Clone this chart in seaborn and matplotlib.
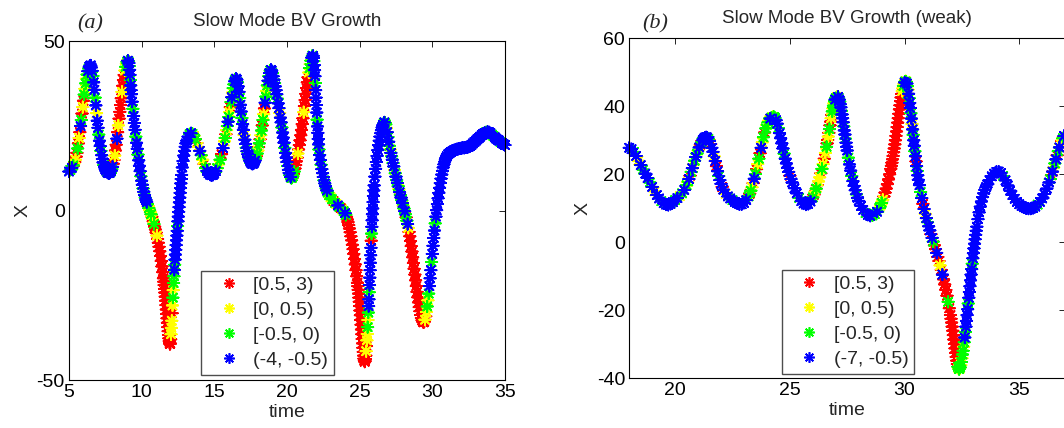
import matplotlib
matplotlib.use("Agg")
import matplotlib.pyplot as plt
from matplotlib.lines import Line2D
import pandas as pd
import seaborn as sns

# Growth-rate bins in drawing order (the last bin is drawn on top).
rate_codes = ["R", "Y", "G", "B"]
rate_colors = ["#ff0000", "#ffff00", "#00ff00", "#0000ff"]
labels_a = ["[0.5, 3)", "[0, 0.5)", "[-0.5, 0)", "(-4, -0.5)"]
labels_b = ["[0.5, 3)", "[0, 0.5)", "[-0.5, 0)", "(-7, -0.5)"]

# ---- panel (a): slow-mode X along the trajectory, t = 5 .. 35 ----
time_a = [
    5.0, 5.1, 5.2, 5.3, 5.4, 5.45, 5.5, 5.55, 5.6, 5.65, 5.7, 5.75, 5.8, 5.85, 5.9, 5.95, 6.0, 6.05, 6.1, 6.15, 6.2, 6.25, 6.3, 6.35, 6.4, 6.45, 6.5,
    6.55, 6.6, 6.65, 6.7, 6.75, 6.8, 6.85, 6.9, 6.95, 7.0, 7.05, 7.1, 7.15, 7.2, 7.25, 7.3, 7.35, 7.4, 7.45, 7.5, 7.55, 7.6, 7.65, 7.7, 7.75,
    7.8, 7.85, 7.9, 7.95, 8.0, 8.05, 8.1, 8.15, 8.2, 8.25, 8.3, 8.35, 8.4, 8.45, 8.5, 8.55, 8.6, 8.65, 8.7, 8.75, 8.8, 8.85, 8.9, 8.95, 9.0, 9.05,
    9.1, 9.125, 9.15, 9.175, 9.2, 9.225, 9.25, 9.275,
    9.3, 9.35, 9.4, 9.45, 9.5, 9.55, 9.6, 9.65, 9.7, 9.75, 9.8, 9.85, 9.9, 9.95, 10.0, 10.05, 10.1, 10.15, 10.2, 10.25, 10.3, 10.35,
    10.4, 10.45, 10.5, 10.55, 10.6, 10.65, 10.7, 10.75, 10.8, 10.85,
    10.9, 10.95, 11.0, 11.05, 11.1, 11.15, 11.2, 11.25, 11.3, 11.35, 11.4, 11.45, 11.5,
    11.525, 11.55, 11.575, 11.6, 11.625, 11.65, 11.675, 11.7, 11.725, 11.75, 11.775, 11.8, 11.825, 11.85, 11.875, 11.9, 11.925, 11.95,
    11.975, 12.0, 12.025, 12.05, 12.075, 12.1, 12.125, 12.15, 12.175, 12.2, 12.225, 12.25, 12.275, 12.3, 12.325, 12.35, 12.375, 12.4,
    12.425, 12.45, 12.475, 12.5, 12.525, 12.55, 12.575, 12.6, 12.625, 12.65, 12.675, 12.7, 12.725, 12.75,
    12.8, 12.85, 12.9, 12.95, 13.0, 13.05, 13.1, 13.2, 13.3, 13.4,
    13.5, 13.6, 13.7, 13.8, 13.9, 14.0, 14.1, 14.2, 14.3, 14.4, 14.5, 14.6, 14.7, 14.8, 14.9,
    15.0, 15.1, 15.2, 15.3, 15.4, 15.5, 15.6, 15.7, 15.75, 15.8, 15.85, 15.9, 15.95, 16.0, 16.05, 16.1, 16.15, 16.2, 16.25, 16.3, 16.35, 16.4, 16.45, 16.5,
    16.55, 16.6, 16.65, 16.7, 16.75, 16.8, 16.85, 16.9, 16.95, 17.0, 17.05, 17.1, 17.15, 17.2, 17.25, 17.3, 17.35, 17.4, 17.45, 17.5, 17.55, 17.6, 17.65,
    17.7, 17.75, 17.8, 17.85, 17.9, 17.95, 18.0, 18.05, 18.1, 18.15, 18.2, 18.25, 18.3, 18.35, 18.4, 18.45, 18.5, 18.55, 18.6, 18.65, 18.7, 18.75, 18.8, 18.85, 18.9,
    18.95, 19.0, 19.05, 19.1, 19.15, 19.2, 19.25, 19.3, 19.35, 19.4, 19.45, 19.5, 19.55, 19.6, 19.65, 19.7, 19.75, 19.8, 19.85, 19.9, 19.95, 20.0, 20.05, 20.1, 20.15, 20.2, 20.25, 20.3,
    20.35, 20.4, 20.45, 20.5, 20.55, 20.6, 20.65, 20.7, 20.75, 20.8, 20.85, 20.9, 20.95, 21.0, 21.05, 21.1, 21.15, 21.2, 21.25, 21.3, 21.35, 21.4, 21.45, 21.5, 21.55, 21.6, 21.65, 21.7, 21.75, 21.8,
    21.825, 21.85, 21.875, 21.9, 21.925, 21.95, 21.975, 22.0, 22.025, 22.05, 22.075, 22.1, 22.125, 22.15, 22.175, 22.2,
    22.25, 22.3, 22.35, 22.4, 22.45, 22.5, 22.55, 22.6, 22.65, 22.7, 22.75, 22.8,
    22.9, 23.0, 23.1, 23.2, 23.3, 23.4, 23.5, 23.6, 23.7, 23.8, 23.9, 24.0,
    24.05, 24.1, 24.15, 24.2, 24.25, 24.3, 24.35, 24.4, 24.45, 24.5, 24.55, 24.6, 24.65, 24.7, 24.75, 24.8, 24.85,
    24.875, 24.9, 24.925, 24.95, 24.975, 25.0, 25.025, 25.05, 25.075, 25.1, 25.125, 25.15, 25.175, 25.2, 25.225, 25.25, 25.275, 25.3, 25.325, 25.35,
    25.375, 25.4, 25.425, 25.45, 25.475, 25.5, 25.525, 25.55, 25.575, 25.6,
    25.62, 25.64, 25.66, 25.68, 25.7, 25.72, 25.74, 25.76, 25.78, 25.8, 25.82, 25.84, 25.86, 25.88, 25.9,
    25.925, 25.95, 25.975, 26.0,
    26.05, 26.1, 26.15, 26.2, 26.25, 26.3, 26.35, 26.4, 26.45, 26.5, 26.55, 26.6, 26.65, 26.7, 26.75,
    26.8, 26.85, 26.9, 26.95, 27.0, 27.05, 27.1, 27.15, 27.2, 27.25, 27.3, 27.35, 27.4, 27.45, 27.5, 27.55, 27.6, 27.65, 27.7, 27.75,
    27.8, 27.85, 27.9, 27.95, 28.0, 28.05, 28.1, 28.15, 28.2, 28.25, 28.3, 28.35,
    28.4, 28.45, 28.5, 28.55, 28.6, 28.65, 28.7, 28.75, 28.8, 28.85, 28.9, 28.95, 29.0, 29.05, 29.1, 29.15, 29.2, 29.25, 29.3, 29.35, 29.4,
    29.45, 29.5, 29.55, 29.6, 29.65, 29.7, 29.75, 29.8, 29.85, 29.9, 29.95, 30.0, 30.05, 30.1, 30.15, 30.2, 30.25, 30.3, 30.35, 30.4,
    30.45, 30.5, 30.55, 30.6, 30.65, 30.7, 30.75, 30.8, 30.85, 30.9, 30.95, 31.0,
    31.1, 31.2, 31.3, 31.4, 31.5, 31.6, 31.7, 31.8, 31.9, 32.0, 32.1, 32.2, 32.3, 32.4, 32.5, 32.6, 32.7, 32.8, 32.9, 33.0,
    33.1, 33.2, 33.3, 33.4, 33.5, 33.6, 33.7, 33.8, 33.9, 34.0, 34.1, 34.2, 34.3, 34.4, 34.5, 34.6, 34.7, 34.8, 34.9, 35.0,
]
x_a = [
    11.5, 12.0, 12.6, 13.3, 14.3, 15.0, 15.9, 17.0, 18.3, 19.8, 21.4, 23.1, 24.9, 26.7, 28.6, 30.5, 32.4, 34.2, 35.9, 37.5, 38.9, 40.1, 41.1, 41.9, 42.4, 42.7, 42.8,
    42.2, 41.2, 39.7, 37.8, 35.6, 33.3, 31.0, 28.7, 26.5, 24.4, 22.4, 20.6, 19.0, 17.6, 16.3, 15.2, 14.2, 13.4, 12.7, 12.2, 11.8, 11.5, 11.2, 11.1, 11.0,
    11.1, 11.3, 11.7, 12.2, 12.9, 13.8, 14.9, 16.2, 17.7, 19.4, 21.2, 23.1, 25.1, 27.1, 29.1, 31.1, 33.1, 35.0, 36.8, 38.5, 40.0, 41.3, 42.4, 43.3, 43.9, 44.2,
    44.0, 43.5, 42.6, 41.5, 40.0, 38.5, 36.9, 35.5,
    34.3, 32.1, 30.0, 27.9, 25.8, 23.8, 21.8, 20.0, 18.2, 16.5, 14.8, 13.2, 11.6, 10.1, 8.8, 7.6, 6.5, 5.5, 4.6, 3.8, 3.1, 2.5,
    1.9, 1.3, 0.7, 0.1, -0.5, -1.1, -1.8, -2.5, -3.2, -4.0,
    -4.8, -5.6, -6.5, -7.4, -8.4, -9.5, -10.7, -12.0, -13.4, -14.9, -16.5, -18.2, -20.0,
    -21.0, -22.0, -23.1, -24.2, -25.4, -26.6, -27.9, -29.2, -30.5, -31.8, -33.1, -34.4, -35.6, -36.7, -37.7, -38.5, -39.1, -39.4,
    -39.2, -38.0, -36.5, -34.6, -32.5, -30.3, -28.0, -25.7, -23.5, -21.4, -19.4, -17.5, -16.0, -14.5, -13.0, -11.6, -10.2, -8.8,
    -7.4, -6.0, -4.6, -3.2, -1.8, -0.4, 1.0, 2.4, 3.8, 5.2, 6.6, 8.0, 9.3, 10.5,
    12.7, 14.6, 16.2, 17.6, 18.8, 19.8, 20.6, 21.8, 22.5, 22.8,
    22.6, 22.0, 21.0, 19.9, 18.8, 17.6, 16.3, 15.0, 13.7, 12.6, 11.7, 11.0, 10.6, 10.4, 10.5,
    10.9, 11.6, 12.5, 13.6, 15.0, 16.6, 18.4, 20.4, 21.4, 22.5, 23.7, 24.9, 26.2, 27.6, 29.0, 30.5, 32.0, 33.4, 34.8, 36.1, 37.2, 38.1, 38.7, 38.9,
    38.6, 37.8, 36.6, 35.0, 33.2, 31.2, 29.2, 27.3, 25.5, 23.8, 22.3, 20.9, 19.6, 18.5, 17.5, 16.6, 15.8, 15.2, 14.7, 14.3, 14.0, 13.8, 13.8,
    13.9, 14.2, 14.7, 15.3, 16.0, 16.8, 17.7, 18.7, 19.8, 21.0, 22.2, 23.6, 25.1, 26.7, 28.4, 30.1, 31.8, 33.6, 35.3, 36.9, 38.3, 39.6, 40.6, 41.3, 41.5,
    41.2, 40.5, 39.6, 38.6, 37.6, 36.6, 35.5, 34.3, 33.0, 31.6, 30.2, 28.8, 27.4, 26.0, 24.5, 23.0, 21.5, 20.0, 18.5, 17.0, 15.6, 14.3, 13.1, 12.0, 11.1, 10.4, 9.9, 9.6,
    9.7, 10.1, 10.7, 11.5, 12.4, 13.4, 14.5, 15.6, 16.8, 18.0, 19.3, 20.7, 22.2, 23.8, 25.5, 27.2, 29.0, 30.8, 32.6, 34.4, 36.1, 37.8, 39.3, 40.7, 42.0, 43.2, 44.2, 45.1, 45.7, 45.6,
    45.0, 44.1, 42.9, 41.4, 39.6, 37.6, 35.5, 33.3, 31.1, 28.9, 26.8, 24.8, 22.9, 21.1, 19.5, 18.0,
    16.4, 14.9, 13.5, 12.2, 11.0, 9.9, 8.9, 8.0, 7.2, 6.5, 5.9, 5.3,
    4.5, 3.9, 3.3, 2.8, 2.3, 1.9, 1.5, 1.1, 0.7, 0.3, -0.2, -0.8,
    -1.3, -1.9, -2.6, -3.4, -4.3, -5.3, -6.4, -7.6, -8.8, -10.1, -11.4, -12.8, -14.3, -15.9, -17.6, -19.4, -21.3,
    -22.3, -23.4, -24.5, -25.7, -26.9, -28.2, -29.5, -30.9, -32.3, -33.7, -35.1, -36.5, -37.9, -39.2, -40.5, -41.7, -42.8, -43.7, -44.3, -44.6,
    -44.4, -43.8, -42.8, -41.5, -40.0, -38.3, -36.4, -34.4, -32.3, -30.1,
    -28.2, -26.2, -24.1, -22.0, -19.8, -17.6, -15.4, -13.2, -11.0, -8.9, -6.8, -4.8, -2.9, -1.1, 0.6,
    2.5, 4.3, 5.9, 7.4,
    10.0, 12.3, 14.3, 16.1, 17.8, 19.3, 20.6, 21.8, 22.8, 23.7, 24.5, 25.2, 25.7, 26.0, 25.9,
    25.4, 24.4, 23.1, 21.7, 20.3, 19.1, 18.0, 17.0, 16.0, 15.0, 14.0, 13.0, 12.0, 11.0, 10.0, 9.0, 8.1, 7.2, 6.3, 5.4,
    4.6, 3.8, 3.0, 2.2, 1.4, 0.6, -0.2, -1.1, -2.0, -3.0, -4.0, -5.1,
    -6.3, -7.6, -9.0, -10.5, -12.1, -13.8, -15.5, -17.2, -18.9, -20.6, -22.3, -24.0, -25.6, -27.1, -28.5, -29.7, -30.8, -31.7, -32.4, -32.8, -33.0,
    -32.8, -32.2, -31.2, -29.9, -28.3, -26.5, -24.5, -22.3, -20.0, -17.6, -15.2, -12.8, -10.4, -8.1, -5.9, -3.8, -1.8, 0.1, 1.9, 3.6,
    5.2, 6.7, 8.1, 9.4, 10.6, 11.7, 12.7, 13.6, 14.4, 15.1, 15.6, 16.0,
    16.6, 17.0, 17.3, 17.6, 17.8, 18.0, 18.1, 18.2, 18.3, 18.4, 18.5, 18.5, 18.6, 18.7, 18.8, 19.0, 19.4, 19.8, 20.2, 20.6,
    21.0, 21.4, 21.8, 22.2, 22.6, 22.9, 23.1, 23.2, 23.1, 22.8, 22.4, 22.0, 21.6, 21.2, 20.9, 20.6, 20.2, 19.9, 19.6, 19.3,
]
rate_a = (
    "BGBG" "RYRRGRYRBGRYRGY" "GYGBG" "BBB"
    "BBGBBGBYBB" "GBBGBBBGBB" "BGBBB"
    "BGBGB" "RRYRRBRYRRRRYRRR" "YGYGB"
    "GBGBBGBB" "BBGBBBGBBG" "BBBGBBGBBG" "BB" "GYGRYGRYRG" "RRRYRRRRRRRRR" "RRRRRRRRRRRRRRRRRR"
    "RRYY" "YRYGYG" "GBGB" "BBBBBBGBBBBBBBBBBB" "BBBBBBB" "BGB"
    "GYGRYBGYRGBBBBB"
    "BB" "GYGRBY" "GRYGBGYRGBYG" "GBGB"
    "BGBBGBBGBB" "YBBGBBBGBB" "BBB"
    "BBBG" "RGYRGRYGRGYRB" "GYGBGBGB"
    "BGBBGBBBGB" "BYBBGBBBGB" "BBGBBGBG"
    "GGRG" "RRRRYRRRRRRRYRRRRRR" "YGYG" "BGB"
    "BGBBBGBBBBGBBBBG" "BBGBBBGBBGBG" "GYGRGYBGRYGB"
    "GRRRRRRRRRRRRRRRR" "RRRRRRRRRRRRRRRRRRRR"
    "RRRYRYYGYG" "BBGBBBBBBRGBBBB" "BBBB" "BBBBBBBBBBBBGBG"
    "GYBGBGYBGB" "GBYGBGBGYB" "GBGBYGBGRG" "BY" "RRRRRRRRRRRRRRRRRRRRR"
    "RYRY" "GYGB" "BBGBBBBGBBBBBBBBBBBBBBBB"
    "BBBBBBBBBB" "BBBBBBBBBB" "BBBBBBGBBB" "GGBBBBGBBB"
)

# ---- panel (b): weak-coupling run, t = 18 .. 37 ----
time_b = [
    18.0, 18.1, 18.2, 18.3, 18.4, 18.5, 18.6, 18.7, 18.8, 18.9, 19.0, 19.1, 19.2, 19.3, 19.4, 19.5, 19.6, 19.7,
    19.8, 19.9, 20.0, 20.1, 20.2, 20.3, 20.4, 20.5, 20.55, 20.6, 20.65, 20.7, 20.75, 20.8, 20.85, 20.9, 20.95, 21.0, 21.05, 21.1, 21.15, 21.2, 21.25, 21.3, 21.35,
    21.4, 21.45, 21.5, 21.55, 21.6, 21.65, 21.7, 21.75, 21.8, 21.85, 21.9, 21.95, 22.0, 22.05, 22.1, 22.2, 22.3, 22.4, 22.5, 22.6, 22.7, 22.8, 22.9,
    23.0, 23.1, 23.2, 23.25, 23.3, 23.35, 23.4, 23.45, 23.5, 23.55, 23.6, 23.65, 23.7, 23.75, 23.8, 23.85, 23.9, 23.95, 24.0, 24.05, 24.1, 24.15, 24.2, 24.25, 24.3,
    24.35, 24.4, 24.45, 24.5, 24.55, 24.6, 24.65, 24.7, 24.75, 24.8, 24.85, 24.9, 24.95, 25.0, 25.05, 25.1, 25.2, 25.3, 25.4, 25.5, 25.6, 25.7,
    25.8, 25.9, 26.0, 26.05, 26.1, 26.15, 26.2, 26.25, 26.3, 26.35, 26.4, 26.45, 26.5, 26.55, 26.6,
    26.625, 26.65, 26.675, 26.7, 26.725, 26.75, 26.775, 26.8, 26.825, 26.85, 26.875, 26.9, 26.925, 26.95, 26.975, 27.0, 27.05,
    27.1, 27.125, 27.15, 27.175, 27.2, 27.225, 27.25, 27.275, 27.3, 27.325, 27.35, 27.375, 27.4, 27.425, 27.45, 27.475, 27.5,
    27.55, 27.6, 27.65, 27.7, 27.75, 27.8, 27.85, 27.9, 27.95, 28.0, 28.1, 28.2, 28.3, 28.4, 28.5, 28.6,
    28.7, 28.8, 28.9, 28.95, 29.0, 29.05, 29.1, 29.15, 29.2, 29.25, 29.3, 29.35, 29.4,
    29.425, 29.45, 29.475, 29.5, 29.525, 29.55, 29.575, 29.6, 29.625, 29.65, 29.675, 29.7, 29.725, 29.75, 29.775, 29.8, 29.825, 29.85, 29.875, 29.9,
    29.925, 29.95, 29.975, 30.0, 30.025, 30.05,
    30.075, 30.1, 30.125, 30.15, 30.175, 30.2, 30.225, 30.25, 30.275, 30.3, 30.325, 30.35, 30.375, 30.4, 30.425, 30.45, 30.475, 30.5, 30.525, 30.55, 30.575, 30.6,
    30.65, 30.7, 30.75, 30.8, 30.85, 30.9, 30.95, 31.0, 31.05, 31.1, 31.15, 31.2, 31.25,
    31.3, 31.35, 31.4, 31.45, 31.5, 31.55, 31.6, 31.65, 31.7, 31.75, 31.8, 31.85, 31.9, 31.95, 32.0,
    32.025, 32.05, 32.075, 32.1, 32.125, 32.15, 32.175, 32.2, 32.225, 32.25, 32.275, 32.3, 32.325, 32.35, 32.375,
    32.4, 32.425, 32.45, 32.475, 32.5, 32.525, 32.55, 32.575, 32.6, 32.625, 32.65, 32.675, 32.7, 32.725, 32.75, 32.775,
    32.8, 32.825, 32.85, 32.875, 32.9, 32.925, 32.95, 32.975, 33.0, 33.025, 33.05, 33.075, 33.1, 33.125, 33.15,
    33.2, 33.25, 33.3, 33.35, 33.4, 33.45, 33.5, 33.55, 33.6, 33.7, 33.8, 33.9, 34.0,
    34.1, 34.2, 34.3, 34.4, 34.5, 34.6, 34.7, 34.8, 34.9, 35.0, 35.1, 35.2, 35.3, 35.4, 35.5, 35.6, 35.7, 35.8, 35.9, 36.0, 36.1, 36.2, 36.3,
    36.35, 36.4, 36.45, 36.5, 36.55, 36.6, 36.65, 36.7, 36.75, 36.8, 36.85, 36.9, 36.95,
]
x_b = [
    27.8, 27.4, 26.6, 25.4, 24.0, 22.7, 21.4, 20.2, 18.9, 17.6, 16.3, 15.0, 13.9, 12.9, 12.1, 11.5, 11.1, 11.0,
    11.3, 11.8, 12.4, 13.0, 13.6, 14.4, 15.4, 16.8, 17.7, 18.6, 19.6, 20.7, 21.8, 22.9, 24.0, 25.1, 26.1, 27.0, 27.9, 28.7, 29.4, 30.0, 30.5, 30.8, 30.9,
    30.8, 30.4, 29.8, 28.9, 27.8, 26.6, 25.3, 23.9, 22.4, 20.9, 19.5, 18.3, 17.2, 16.3, 15.5, 14.3, 13.5, 12.9, 12.4, 11.9, 11.5, 11.2, 11.2,
    11.6, 12.4, 13.5, 14.3, 15.2, 16.2, 17.4, 18.7, 20.1, 21.5, 23.0, 24.6, 26.2, 27.8, 29.4, 30.9, 32.3, 33.5, 34.5, 35.3, 35.9, 36.4, 36.7, 36.9, 36.9,
    36.6, 35.9, 34.9, 33.6, 32.1, 30.6, 29.1, 27.6, 26.1, 24.6, 23.2, 21.9, 20.7, 19.6, 18.6, 17.6, 15.9, 14.4, 13.1, 12.1, 11.4, 11.1,
    11.3, 12.0, 13.2, 14.0, 14.9, 15.8, 16.8, 17.9, 19.1, 20.3, 21.6, 23.0, 24.6, 26.3, 28.1,
    29.1, 30.1, 31.1, 32.2, 33.3, 34.4, 35.5, 36.5, 37.5, 38.5, 39.4, 40.2, 40.9, 41.5, 42.0, 42.4, 42.8,
    42.8, 42.5, 42.0, 41.4, 40.6, 39.7, 38.7, 37.6, 36.5, 35.3, 34.1, 32.9, 31.7, 30.5, 29.3, 28.1, 27.0,
    24.9, 22.9, 21.1, 19.5, 18.0, 16.6, 15.3, 14.1, 13.1, 12.2, 10.7, 9.5, 8.6, 8.1, 7.8, 7.9,
    8.3, 9.0, 10.1, 10.8, 11.6, 12.5, 13.5, 14.6, 15.8, 17.1, 18.5, 20.0, 21.6,
    22.5, 23.4, 24.4, 25.4, 26.5, 27.6, 28.8, 30.0, 31.3, 32.6, 33.9, 35.2, 36.5, 37.8, 39.1, 40.3, 41.5, 42.6, 43.6, 44.5,
    45.3, 46.0, 46.6, 47.0, 47.3, 47.4,
    47.2, 46.7, 45.9, 44.9, 43.7, 42.4, 41.0, 39.5, 38.0, 36.4, 34.8, 33.2, 31.6, 30.0, 28.4, 26.8, 25.3, 23.8, 22.4, 21.0, 19.7, 18.4,
    16.8, 14.8, 13.0, 11.3, 9.8, 8.4, 7.1, 5.9, 4.7, 3.5, 2.4, 1.3, 0.2,
    -0.9, -2.0, -3.1, -4.3, -5.5, -6.8, -8.1, -9.5, -10.9, -12.4, -14.0, -15.7, -17.5, -19.4, -21.4,
    -22.5, -23.6, -24.8, -26.0, -27.3, -28.6, -29.9, -31.2, -32.5, -33.7, -34.8, -35.8, -36.6, -37.1, -37.3,
    -37.2, -36.8, -36.1, -35.2, -34.1, -33.0, -31.9, -30.7, -29.4, -28.0, -26.4, -24.8, -23.1, -21.4, -19.7, -18.0,
    -16.3, -14.6, -12.9, -11.2, -9.5, -7.9, -6.3, -4.7, -3.2, -1.8, -0.4, 0.9, 2.2, 3.4, 4.6,
    6.8, 8.8, 10.5, 12.0, 13.3, 14.4, 15.4, 16.2, 17.0, 18.3, 19.4, 20.2, 20.7,
    20.8, 20.4, 19.5, 18.2, 16.7, 15.2, 13.9, 12.8, 11.9, 11.2, 10.7, 10.3, 10.0, 9.9, 9.9, 10.1, 10.5, 11.1, 11.9, 12.9, 14.2, 15.8, 17.6,
    18.6, 19.7, 20.8, 22.0, 23.2, 24.4, 25.6, 26.8, 27.9, 28.9, 29.8, 30.6, 31.3,
]
rate_b = (
    "BBGBYBGBBGBYBBGBBB"
    "BBGBYGB" "GYBRGBYGBGYBRGB" "BBB"
    "BGBRBBYBRBGBBRBYBBGBBBB"
    "BBG" "RGYRBGRYGRBYGRG" "YGYBGYG"
    "GBBGBBBBGBBBBRBBBBGBBB"
    "BBG" "RYGRYYRGYRYG" "RRYRGRRYRGYG" "YGBGY"
    "BGBGBBGBBBGBBGBBB" "GBBGBBBGBB" "BBGBBG"
    "GBG" "YGY" "RRRRRRR" "RRRRRRRRRRRRRRRRRRRY" "YGYBGY"
    "GBGYBGBBGBYBGBBGBRBGBB" "BGBRBYBGBBRBG" "RRBRRYRBRRRRGRR" "RRRRRRRRRRRRGYG"
    "YGYGYGGYG" "BGBBBBGBBBBBBGBBBBBBBB" "BBBBBBBBBBBBB"
    "BBGBBBBBBBBBBBBBBGBBBB" "BGRBYGBRGBYRGB"
)

ASTERISK = (8, 2, 0)  # eight-armed asterisk marker

sns.set_theme(style="white")
plt.rcParams["font.family"] = ["Liberation Sans", "DejaVu Sans"]
plt.rcParams["axes.unicode_minus"] = False

fig = plt.figure(figsize=(10.64, 4.28), dpi=100)
ax_a = fig.add_axes([0.0648, 0.1121, 0.4098, 0.7921])
ax_b = fig.add_axes([0.5914, 0.1161, 0.4097, 0.7944])


def draw_panel(ax, t, x, codes, labels, title, xlim, ylim, xticks, yticks, leg_anchor):
    assert len(t) == len(x) == len(codes), (len(t), len(x), len(codes))
    lookup = dict(zip(rate_codes, labels))
    df = pd.DataFrame({"time": t, "X": x, "rate": [lookup[c] for c in codes]})
    df["rate"] = pd.Categorical(df["rate"], categories=labels, ordered=True)
    df = df.sort_values("rate", kind="stable")
    sns.scatterplot(data=df, x="time", y="X", hue="rate", hue_order=labels,
                    palette=rate_colors, marker=ASTERISK, s=66, linewidth=1.35,
                    legend=False, clip_on=False, ax=ax)
    ax.set_xlim(*xlim)
    ax.set_ylim(*ylim)
    ax.set_xticks(xticks)
    ax.set_yticks(yticks)
    ax.tick_params(direction="in", length=4, width=0.6, top=True, right=True,
                   labelsize=14, pad=3, colors="black")
    for sp in ax.spines.values():
        sp.set_color("black")
        sp.set_linewidth(0.8)
    ax.set_xlabel("time", fontsize=14, labelpad=2)
    ax.set_ylabel("X", fontsize=14)
    ax.yaxis.set_label_coords(-0.086, 0.5)
    ax.set_title(title, fontsize=13.5, pad=11)
    handles = [Line2D([], [], linestyle="none", marker=ASTERISK, markersize=7.6,
                      markeredgewidth=1.2, color=c) for c in rate_colors]
    leg = ax.legend(handles, labels, loc="lower left", bbox_to_anchor=leg_anchor,
                    borderaxespad=0, frameon=True, fancybox=False, framealpha=1,
                    edgecolor="0.3", fontsize=14, borderpad=0.3, labelspacing=0.38,
                    handlelength=2.2, handletextpad=0.15)
    leg.get_frame().set_linewidth(1.0)


draw_panel(ax_a, time_a, x_a, rate_a, labels_a, "Slow Mode BV Growth",
           (5, 35), (-50, 50), [5, 10, 15, 20, 25, 30, 35], [-50, 0, 50], (0.304, 0.015))
draw_panel(ax_b, time_b, x_b, rate_b, labels_b, "Slow Mode BV Growth (weak)",
           (18, 37), (-40, 60), [20, 25, 30, 35], [-40, -20, 0, 20, 40, 60], (0.351, 0.013))

fig.text(77 / 1064, 1 - 28 / 428, "(a)", family="Liberation Serif", style="italic",
         fontsize=16, va="baseline", ha="left")
fig.text(642 / 1064, 1 - 28 / 428, "(b)", family="Liberation Serif", style="italic",
         fontsize=16, va="baseline", ha="left")

fig.savefig("out.png", dpi=100)
